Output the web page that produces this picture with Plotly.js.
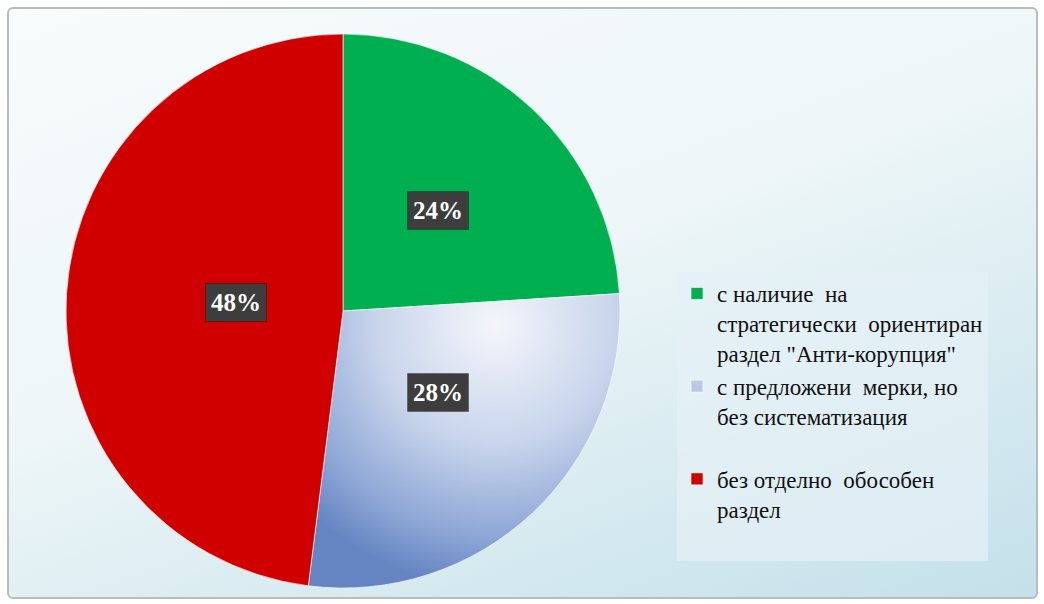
<!DOCTYPE html>
<html>
<head>
<meta charset="utf-8">
<script src="https://cdn.plot.ly/plotly-3.0.1.min.js"></script>
<style>
  html, body { margin:0; padding:0; background:#ffffff; }
  #wrap { position:relative; width:1044px; height:604px; overflow:hidden; background:#ffffff; }
  #frame { position:absolute; left:7px; top:7px; width:1027px; height:588px;
           border:2px solid #b8bcbf; border-radius:6px;
           background: linear-gradient(160deg, #f7fbfc 0%, #eef6f8 45%, #d6eaf0 75%, #c4e0ea 100%); }
  #chart { position:absolute; left:0; top:0; width:1044px; height:604px; }
</style>
</head>
<body>
<div id="wrap"><div id="frame"></div><div id="chart"></div></div>
<script>
// ---- data ----
const categories = [
  "с наличие\u00a0 на<br>стратегически\u00a0 ориентиран<br>раздел \"Анти-корупция\"",
  "с предложени\u00a0 мерки, но<br>без систематизация<br> ",
  "без отделно\u00a0 обособен<br>раздел<br> "
];
const values = [24, 28, 48];
const percentLabels = ["24%", "28%", "48%"];
const sliceColors = ["#00b050", "#b9c9e6", "#d00000"];

const W = 1044, H = 604;
const domX = [63 / W, 623 / W];
const domY = [1 - 588 / H, 1 - 34 / H];
const SERIF = "Times New Roman, Liberation Serif, DejaVu Serif, serif";

const trace = {
  type: "pie",
  labels: categories,
  values: values,
  sort: false,
  direction: "clockwise",
  rotation: 0,
  textinfo: "none",
  hoverinfo: "label+percent",
  marker: { colors: sliceColors, line: { color: "rgba(255,255,255,0.6)", width: 1 } },
  domain: { x: domX, y: domY }
};

// label annotations placed from the values through the pie geometry
const cxPx = (domX[0] + domX[1]) / 2 * W;
const cyPx = (1 - (domY[0] + domY[1]) / 2) * H;
const Rpx = Math.min((domX[1] - domX[0]) * W, (domY[1] - domY[0]) * H) / 2;
const total = values.reduce((a, b) => a + b, 0);
let cum = 0;
const annotations = values.map((v, i) => {
  const mid = (cum + v / 2) / total * 2 * Math.PI;
  cum += v;
  const r = Rpx * 0.5;
  const px = cxPx + r * Math.sin(mid);
  const py = cyPx - r * Math.cos(mid);
  return {
    xref: "paper", yref: "paper", x: px / W, y: 1 - py / H,
    text: "<b>" + percentLabels[i] + "</b>", showarrow: false,
    font: { family: SERIF, size: 25, color: "#ffffff" },
    bgcolor: "#3d3d3d", borderpad: 5, bordercolor: "rgba(0,0,0,0.25)", borderwidth: 1
  };
});

const layout = {
  width: W, height: H,
  margin: { l: 0, r: 0, t: 0, b: 0 },
  paper_bgcolor: "rgba(0,0,0,0)",
  plot_bgcolor: "rgba(0,0,0,0)",
  font: { family: SERIF },
  showlegend: true,
  legend: {
    x: 677 / W, y: 1 - 272 / H, xanchor: "left", yanchor: "top",
    bgcolor: "rgba(228,240,245,0.75)",
    font: { family: SERIF, size: 23, color: "#111111" },
    valign: "top", itemwidth: 30, tracegroupgap: 0,
    traceorder: "normal"
  },
  annotations: annotations
};

Plotly.newPlot("chart", [trace], layout, { displayModeBar: false, staticPlot: true }).then(() => {
  const svg = document.querySelector("#chart .main-svg");
  const defs = svg.querySelector("defs");
  const ns = "http://www.w3.org/2000/svg";
  const grad = document.createElementNS(ns, "radialGradient");
  grad.setAttribute("id", "blueGrad");
  grad.setAttribute("gradientUnits", "userSpaceOnUse");
  grad.setAttribute("cx", cxPx + Rpx * 0.55);
  grad.setAttribute("cy", cyPx + Rpx * 0.05);
  grad.setAttribute("r", Rpx * 0.95);
  [["0", "#f4f6fb"], ["0.45", "#c9d5ec"], ["0.8", "#8ea7d6"], ["1", "#6585c2"]].forEach(([o, c]) => {
    const s = document.createElementNS(ns, "stop");
    s.setAttribute("offset", o); s.setAttribute("stop-color", c);
    grad.appendChild(s);
  });
  defs.appendChild(grad);
  const slices = svg.querySelectorAll("g.slice path.surface");
  if (slices[1]) slices[1].style.fill = "url(#blueGrad)";
});
</script>
</body>
</html>
